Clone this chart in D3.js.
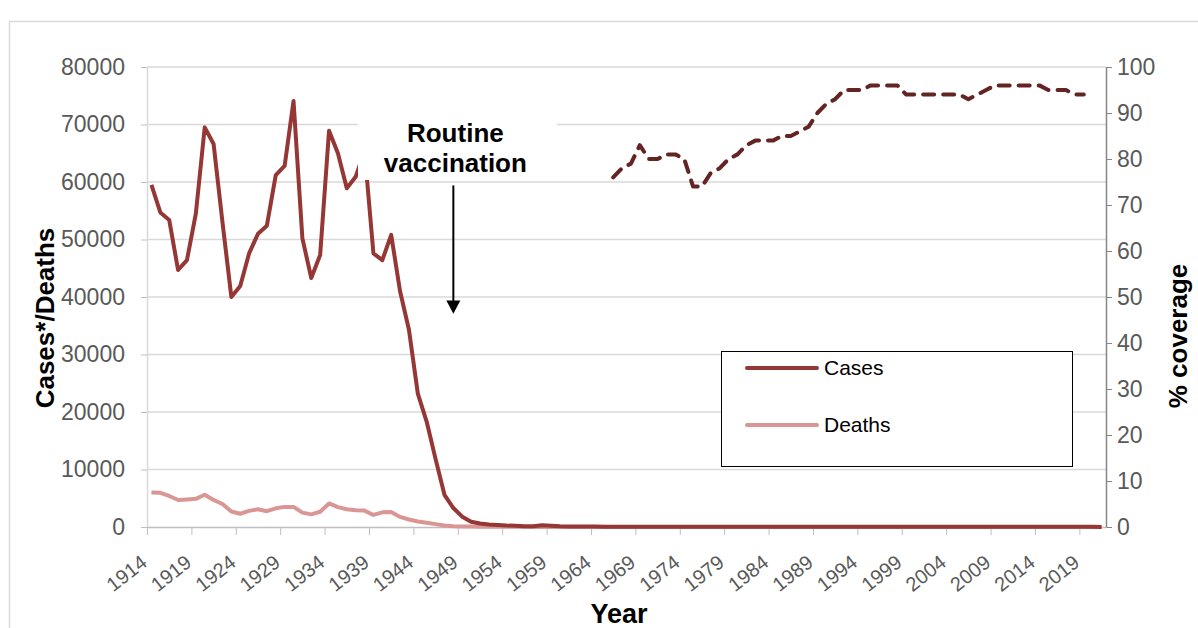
<!DOCTYPE html>
<html>
<head>
<meta charset="utf-8">
<script src="https://cdn.jsdelivr.net/npm/d3@7"></script>
<style>
  html, body { margin: 0; padding: 0; background: #fff; }
  svg { display: block; font-family: "Liberation Sans", Arial, sans-serif; }
</style>
</head>
<body>
<svg id="chart" width="1198" height="628"></svg>
<script>
// categories: one per year
const firstYear = 1914
const lastYear = 2021
const years = d3.range(firstYear, lastYear + 1)

// reported cases, 1914-2021
const cases = [
  59500, 54700, 53400, 44700, 46400, 54500, 69500, 66600, 53000, 40000,
  41900, 47600, 51000, 52400, 61200, 62800, 74100, 50200, 43300, 47300,
  68900, 65000, 58900, 60900, 65400, 47600, 46400, 50800, 41000, 34300,
  23200, 18300, 11800, 5600, 3300, 1800, 900, 600, 450, 350,
  250, 200, 150, 120, 300, 200, 120, 100, 90, 80,
  70, 60, 50, 45, 40, 40, 35, 35, 30, 30,
  30, 30, 30, 30, 30, 30, 30, 30, 30, 30,
  30, 30, 30, 30, 30, 30, 30, 30, 30, 30,
  30, 30, 30, 30, 30, 30, 30, 30, 30, 30,
  30, 30, 30, 30, 30, 30, 30, 30, 30, 30,
  30, 30, 30, 30, 30, 30, 30, 20
]

// deaths, 1914-2021
const deaths = [
  6000, 5950, 5400, 4700, 4800, 4900, 5600, 4700, 4000, 2700,
  2300, 2800, 3100, 2750, 3250, 3500, 3500, 2500, 2200, 2650,
  4100, 3450, 3100, 2900, 2850, 2100, 2550, 2600, 1750, 1300,
  950, 750, 500, 250, 150, 100, 80, 60, 50, 40,
  30, 25, 20, 15, 15, 10, 10, 10, 5, 5,
  5, 5, 5, 5, 5, 5, 5, 5, 5, 5,
  5, 5, 5, 5, 5, 5, 5, 5, 5, 5,
  5, 5, 5, 5, 5, 5, 5, 5, 5, 5,
  5, 5, 5, 5, 5, 5, 5, 5, 5, 5,
  5, 5, 5, 5, 5, 5, 5, 5, 5, 5,
  5, 5, 5, 5, 5, 5, 5, 5
]

// vaccine coverage (%), 1966-2019
const coverageStart = 1966
const coverage = [
  76, 78, 79, 83, 80, 80, 81, 81, 80, 74,
  74, 77, 78, 80, 81, 83, 84, 84, 84, 85,
  85, 86, 87, 90, 92, 93, 95, 95, 95, 96,
  96, 96, 96, 94, 94, 94, 94, 94, 94, 94,
  93, 94, 95, 96, 96, 96, 96, 96, 96, 95,
  95, 95, 94, 94
]

const leftTicks = [0, 10000, 20000, 30000, 40000, 50000, 60000, 70000, 80000]
const rightTicks = [0, 10, 20, 30, 40, 50, 60, 70, 80, 90, 100]

const svg = d3.select('#chart')
const plot = {left: 147, right: 1106, top: 67, bottom: 527}

// chart area border
svg.append('rect')
  .attr('x', 9.5).attr('y', 21.5)
  .attr('width', 1300).attr('height', 700)
  .attr('fill', '#fff').attr('stroke', '#d9d9d9').attr('stroke-width', 1.5)

const x = d3.scaleBand().domain(years).range([plot.left, plot.right]).padding(0)
const xc = d => x(d) + x.bandwidth() / 2
const xi = d3.scaleLinear().domain([0, years.length]).range([plot.left, plot.right])
const yL = d3.scaleLinear().domain([0, 80000]).range([plot.bottom, plot.top])
const yR = d3.scaleLinear().domain([0, 100]).range([plot.bottom, plot.top])

// gridlines
svg.append('g')
  .selectAll('line')
  .data(leftTicks.filter(d => d > 0))
  .join('line')
    .attr('x1', plot.left).attr('x2', plot.right)
    .attr('y1', d => yL(d)).attr('y2', d => yL(d))
    .attr('stroke', '#d9d9d9').attr('stroke-width', 1.5)

// left axis
const gL = svg.append('g')
  .attr('transform', 'translate(' + plot.left + ',0)')
  .call(d3.axisLeft(yL).tickValues(leftTicks).tickFormat(d3.format('d'))
    .tickSize(6).tickPadding(16).tickSizeOuter(0))
gL.select('.domain').attr('stroke', '#d9d9d9').attr('stroke-width', 1.5)
gL.selectAll('.tick line').attr('stroke', '#bfbfbf')
gL.selectAll('.tick text')
  .attr('font-size', 23).attr('fill', '#595959')
  .attr('font-family', '"Liberation Sans", Arial, sans-serif')

// right axis
const gR = svg.append('g')
  .attr('transform', 'translate(' + plot.right + ',0)')
  .call(d3.axisRight(yR).tickValues(rightTicks).tickSize(6).tickPadding(5).tickSizeOuter(0))
gR.select('.domain').attr('stroke', '#868686').attr('stroke-width', 1.5)
gR.selectAll('.tick line').attr('stroke', '#868686')
gR.selectAll('.tick text')
  .attr('font-size', 23).attr('fill', '#595959')
  .attr('font-family', '"Liberation Sans", Arial, sans-serif')

// bottom axis: tick marks between categories, every 5 years
const gB = svg.append('g')
  .attr('transform', 'translate(0,' + plot.bottom + ')')
  .call(d3.axisBottom(xi).tickValues(d3.range(0, years.length, 5)).tickSize(8).tickFormat('').tickSizeOuter(0))
gB.select('.domain').attr('stroke', '#bfbfbf').attr('stroke-width', 1.5)
gB.selectAll('.tick line').attr('stroke', '#bfbfbf')

svg.append('g')
  .selectAll('text')
  .data(years.filter((d, i) => i % 5 === 0))
  .join('text')
    .attr('transform', d => 'translate(' + (xc(d) - 3) + ',' + (plot.bottom + 38) + ') rotate(-38)')
    .attr('text-anchor', 'end')
    .attr('font-size', 20)
    .attr('fill', '#595959')
    .text(d => d)

// lines
const lineL = d3.line().x((d, i) => xc(years[i])).y(d => yL(d))
svg.append('path')
  .datum(deaths)
  .attr('d', lineL)
  .attr('fill', 'none').attr('stroke', '#da9694').attr('stroke-width', 4)
  .attr('stroke-linejoin', 'round')
svg.append('path')
  .datum(cases)
  .attr('d', lineL)
  .attr('fill', 'none').attr('stroke', '#953735').attr('stroke-width', 4)
  .attr('stroke-linejoin', 'round')

const lineR = d3.line().x((d, i) => xc(coverageStart + i)).y(d => yR(d))
svg.append('path')
  .datum(coverage)
  .attr('d', lineR)
  .attr('fill', 'none').attr('stroke', '#632523').attr('stroke-width', 4)
  .attr('stroke-dasharray', '11,9').attr('stroke-linecap', 'round')
  .attr('stroke-linejoin', 'round')

// annotation
const noteX = xc(1948)
svg.append('rect')
  .attr('x', 358).attr('y', 104).attr('width', 199).attr('height', 76)
  .attr('fill', '#fff')
svg.append('text')
  .attr('x', noteX + 2).attr('y', 142)
  .attr('text-anchor', 'middle').attr('font-size', 26).attr('font-weight', 'bold')
  .text('Routine')
svg.append('text')
  .attr('x', noteX + 2).attr('y', 172)
  .attr('text-anchor', 'middle').attr('font-size', 26).attr('font-weight', 'bold')
  .text('vaccination')
svg.append('line')
  .attr('x1', noteX).attr('x2', noteX)
  .attr('y1', yL(59400)).attr('y2', yL(38800))
  .attr('stroke', '#000').attr('stroke-width', 2)
svg.append('path')
  .attr('d', 'M' + (noteX - 7) + ',' + yL(39400) + 'L' + (noteX + 7) + ',' + yL(39400) + 'L' + noteX + ',' + yL(37100) + 'Z')
  .attr('fill', '#000')

// axis titles
svg.append('text')
  .attr('transform', 'translate(54,318) rotate(-90)')
  .attr('text-anchor', 'middle').attr('font-size', 26).attr('font-weight', 'bold')
  .text('Cases*/Deaths')
svg.append('text')
  .attr('transform', 'translate(1187,336) rotate(-90)')
  .attr('text-anchor', 'middle').attr('font-size', 26).attr('font-weight', 'bold')
  .text('% coverage')
svg.append('text')
  .attr('x', 619).attr('y', 623)
  .attr('text-anchor', 'middle').attr('font-size', 27).attr('font-weight', 'bold')
  .text('Year')

// legend
const legend = svg.append('g')
legend.append('rect')
  .attr('x', 721.5).attr('y', 351.5).attr('width', 351).attr('height', 115)
  .attr('fill', '#fff').attr('stroke', '#000').attr('stroke-width', 1)
const legendItems = [
  {name: 'Cases', color: '#953735'},
  {name: 'Deaths', color: '#da9694'}
]
legendItems.forEach((d, i) => {
  const ly = 368 + i * 57
  legend.append('line')
    .attr('x1', 747).attr('x2', 817).attr('y1', ly).attr('y2', ly)
    .attr('stroke', d.color).attr('stroke-width', 4).attr('stroke-linecap', 'round')
  legend.append('text')
    .attr('x', 824).attr('y', ly + 7)
    .attr('font-size', 21).attr('fill', '#000')
    .text(d.name)
})
</script>
</body>
</html>
